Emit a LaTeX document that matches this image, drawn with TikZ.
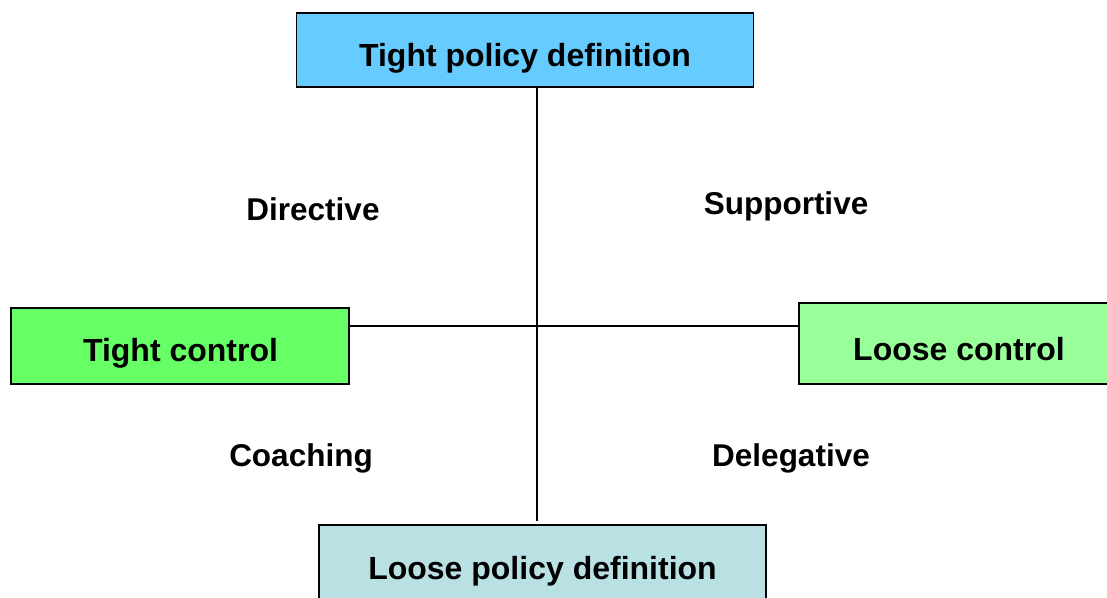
\documentclass[tikz,border=0pt]{standalone}
\usepackage{fontspec}
\setmainfont{Liberation Sans}
\usepackage{tikz}
\usetikzlibrary{positioning,calc}
\definecolor{tightpol}{HTML}{66CCFF}
\definecolor{loosepol}{HTML}{B9E0E3}
\definecolor{tightctl}{HTML}{66FF66}
\definecolor{loosectl}{HTML}{99FF99}
\tikzset{
  box/.style={draw=black,line width=1.2pt,inner sep=0pt},
  boxtxt/.style={font=\fontsize{32}{38}\selectfont\bfseries},
  quad/.style={font=\fontsize{31.5}{36}\selectfont\bfseries}
}

\begin{document}
\begin{tikzpicture}[x=1pt,y=-1pt]
\useasboundingbox (0,0) rectangle (1107,597);
\clip (0,0) rectangle (1107,597);
\coordinate (O) at (537,326);
\node[box,fill=tightpol,minimum width=457pt,minimum height=74pt] (tpd) at (525.3,50) {};
\node[box,fill=tightctl,minimum width=338pt,minimum height=76pt] (tc) at (180,346) {};
\node[box,fill=loosectl,minimum width=320pt,minimum height=81pt] (lc) at (959,343.5) {};
\node[box,fill=loosepol,minimum width=447pt,minimum height=88pt] (lpd) at (542.5,569) {};
\node[boxtxt] (tpdtxt) at (525,58) {Tight policy definition};
\node[boxtxt] (tctxt) at (180.5,353) {Tight control};
\node[boxtxt] (lctxt) at (959,349) {Loose control};
\node[boxtxt] (lpdtxt) at (542.5,571) {Loose policy definition};
\coordinate (vend) at (537,521);
\draw[line width=1.2pt] (O |- tpd.south) -- (vend);
\draw[line width=1.2pt] (tc.east |- O) -- (lc.west |- O);
\node[quad] (dir) at (313,209) {Directive};
\node[quad] (sup) at (786,206) {Supportive};
\node[quad] (coa) at (301,458) {Coaching};
\node[quad] (del) at (791,458) {Delegative};
\end{tikzpicture}
\end{document}
